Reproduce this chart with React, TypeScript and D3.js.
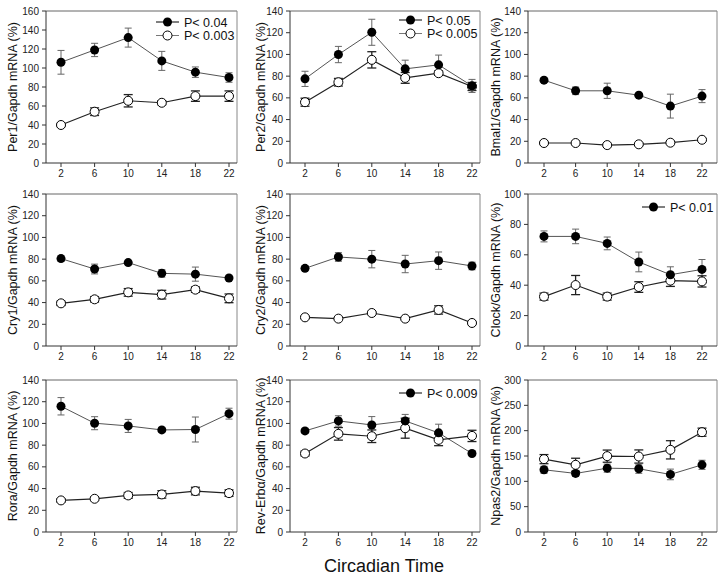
import React from "react";
import * as d3 from "d3";

const times = [2, 6, 10, 14, 18, 22];

const per1Filled = [106, 119, 132, 107.5, 95.6, 90];
const per1FilledErr = [12.5, 7, 10, 10, 5.5, 5];
const per1Open = [40, 54, 65.5, 63.4, 70.4, 70.4];
const per1OpenErr = [1.5, 4, 6.5, 2, 5.5, 5.5];

const per2Filled = [77.5, 99.9, 120.4, 86.7, 90.4, 71];
const per2FilledErr = [7, 7.5, 12, 8, 9, 6];
const per2Open = [56, 74.4, 95, 78.4, 82.7, 70.5];
const per2OpenErr = [3.7, 3.5, 7.5, 5, 2, 3.7];

const bmal1Filled = [76.3, 66.5, 66.5, 62.5, 52.4, 61.6];
const bmal1FilledErr = [2, 3.5, 7, 1.5, 11, 6];
const bmal1Open = [18.4, 18.4, 16.5, 17.2, 18.7, 21.4];
const bmal1OpenErr = [1, 1, 1, 1, 1, 1];

const cry1Filled = [80.5, 70.9, 76.8, 66.9, 66.2, 62.6];
const cry1FilledErr = [2.5, 4.5, 1.5, 3.5, 6.5, 1.5];
const cry1Open = [39.3, 43, 49.4, 47.3, 51.9, 43.9];
const cry1OpenErr = [2, 2.5, 3.5, 4, 2.5, 4];

const cry2Filled = [71.5, 82, 80, 75.5, 78.6, 73.7];
const cry2FilledErr = [2, 4, 8, 8, 8, 3.5];
const cry2Open = [26.4, 25.2, 30.4, 25.2, 33.2, 21.2];
const cry2OpenErr = [1, 1, 1, 1, 3.8, 1];

const clockFilled = [72.1, 72.1, 67.5, 55.3, 46.9, 50.4];
const clockFilledErr = [3.6, 4.8, 4.2, 6.5, 5.2, 6.5];
const clockOpen = [32.5, 40.1, 32.5, 38.8, 43, 42.5];
const clockOpenErr = [2.3, 6.3, 2.3, 3.5, 3.8, 3.7];

const roraFilled = [115.8, 100.2, 97.7, 94, 94.4, 109];
const roraFilledErr = [8, 6, 6, 2, 11.5, 5];
const roraOpen = [29.1, 30.6, 33.7, 34.6, 37.7, 35.8];
const roraOpenErr = [1.5, 1.5, 2.7, 3.4, 3.5, 3];

const revFilled = [93.1, 102.3, 98.6, 102.3, 91.3, 72.3];
const revFilledErr = [2, 4.8, 7.7, 6, 8, 1.5];
const revOpen = [72.3, 90.4, 88.2, 95.6, 84.9, 88.5];
const revOpenErr = [2.3, 5.8, 5.8, 9.2, 5.4, 5.2];

const npas2Filled = [122.8, 115.6, 126, 124.8, 113.6, 132.6];
const npas2FilledErr = [7, 6, 8, 9, 10.5, 9];
const npas2Open = [143.8, 132.6, 149.7, 149, 162.2, 197];
const npas2OpenErr = [9, 13, 12, 13, 18, 8];

const yLabels = [
  "Per1/Gapdh mRNA (%)",
  "Per2/Gapdh mRNA (%)",
  "Bmal1/Gapdh mRNA (%)",
  "Cry1/Gapdh mRNA (%)",
  "Cry2/Gapdh mRNA (%)",
  "Clock/Gapdh mRNA (%)",
  "Rora/Gapdh mRNA (%)",
  "Rev-Erb\u03b1/Gapdh mRNA (%)",
  "Npas2/Gapdh mRNA (%)",
];
const yMax = [160, 140, 140, 140, 140, 100, 140, 140, 300];
const yStep = [20, 20, 20, 20, 20, 20, 20, 20, 50];
const legendFilled = ["P< 0.04", "P< 0.05", "", "", "", "P< 0.01", "", "P< 0.009", ""];
const legendOpen = ["P< 0.003", "P< 0.005", "", "", "", "", "", "", ""];

const panels = [
  [per1Filled, per1FilledErr, per1Open, per1OpenErr],
  [per2Filled, per2FilledErr, per2Open, per2OpenErr],
  [bmal1Filled, bmal1FilledErr, bmal1Open, bmal1OpenErr],
  [cry1Filled, cry1FilledErr, cry1Open, cry1OpenErr],
  [cry2Filled, cry2FilledErr, cry2Open, cry2OpenErr],
  [clockFilled, clockFilledErr, clockOpen, clockOpenErr],
  [roraFilled, roraFilledErr, roraOpen, roraOpenErr],
  [revFilled, revFilledErr, revOpen, revOpenErr],
  [npas2Filled, npas2FilledErr, npas2Open, npas2OpenErr],
];

// layout
const colLeft = [46, 290, 528];
const colRight = [237, 480, 717];
const colFirstTick = [61, 305, 544];
const colLastTick = [229, 472, 702];
const colLabelX = [17, 265, 500];
const colLegendX = [156, 399, 642];
const rowTop = [11, 194, 380];
const rowBottom = [163, 346, 532];
const panelLegendY = [22, 20, 0, 0, 0, 207, 0, 393, 0];

const FONT = "Arial, 'Liberation Sans', sans-serif";

function Panel({ idx }: { idx: number }) {
  const c = idx % 3;
  const r = Math.floor(idx / 3);
  const left = colLeft[c], right = colRight[c], top = rowTop[r], bottom = rowBottom[r];
  const x = d3.scaleLinear().domain([2, 22]).range([colFirstTick[c], colLastTick[c]]);
  const y = d3.scaleLinear().domain([0, yMax[idx]]).range([bottom, top]);
  const [f, fe, o, oe] = panels[idx];
  const yTicks = d3.range(0, yMax[idx] + 0.001, yStep[idx]);
  const line = d3.line<number>().x((_, i) => x(times[i])).y((v) => y(v));
  const cap = 3.5;
  const errBars = (vals: number[], errs: number[], color: string, w: number, capW: number) =>
    vals.map((v, i) => {
      const cx = x(times[i]);
      return (
        <g key={i} stroke={color} strokeWidth={w}>
          <line x1={cx} x2={cx} y1={y(v + errs[i])} y2={y(v - errs[i])} />
          <line x1={cx - capW} x2={cx + capW} y1={y(v + errs[i])} y2={y(v + errs[i])} />
          <line x1={cx - capW} x2={cx + capW} y1={y(v - errs[i])} y2={y(v - errs[i])} />
        </g>
      );
    });
  const midY = (top + bottom) / 2;
  const legX0 = colLegendX[c];
  const legY0 = panelLegendY[idx];
  return (
    <g>
      {/* frame */}
      <line x1={left} x2={right} y1={top} y2={top} stroke="#666" strokeWidth={1} />
      <line x1={right} x2={right} y1={top} y2={bottom} stroke="#888" strokeWidth={1} />
      <line x1={left} x2={left} y1={top} y2={bottom} stroke="#333" strokeWidth={1} />
      <line x1={left} x2={right} y1={bottom} y2={bottom} stroke="#333" strokeWidth={1} />
      {yTicks.map((t) => (
        <g key={t}>
          <line x1={left - 4} x2={left} y1={y(t)} y2={y(t)} stroke="#333" />
          <text x={left - 7} y={y(t) + 3.5} textAnchor="end" fontSize={10} fontFamily={FONT} fill="#222">
            {t}
          </text>
        </g>
      ))}
      {times.map((t) => (
        <g key={t}>
          <line x1={x(t)} x2={x(t)} y1={bottom} y2={bottom + 4} stroke="#333" />
          <text x={x(t)} y={bottom + 14} textAnchor="middle" fontSize={10} fontFamily={FONT} fill="#222">
            {t}
          </text>
        </g>
      ))}
      <text
        transform={`translate(${colLabelX[c]},${midY}) rotate(-90)`}
        textAnchor="middle"
        fontSize={12.5}
        fontFamily={FONT}
        fill="#111"
      >
        {yLabels[idx]}
      </text>
      {/* error bars */}
      {errBars(f, fe, "#666", 1, cap)}
      {errBars(o, oe, "#222", 1.3, cap + 1)}
      {/* lines */}
      <path d={line(f) || ""} fill="none" stroke="#555" strokeWidth={1} />
      <path d={line(o) || ""} fill="none" stroke="#222" strokeWidth={1.2} />
      {/* markers */}
      {o.map((v, i) => (
        <circle key={"o" + i} cx={x(times[i])} cy={y(v)} r={4.5} fill="#fff" stroke="#000" strokeWidth={1} />
      ))}
      {f.map((v, i) => (
        <circle key={"f" + i} cx={x(times[i])} cy={y(v)} r={4.5} fill="#000" />
      ))}
      {/* legend */}
      {legendFilled[idx] && (
        <g>
          <line x1={legX0} x2={legX0 + 23} y1={legY0} y2={legY0} stroke="#000" />
          <circle cx={legX0 + 11.5} cy={legY0} r={4.5} fill="#000" />
          <text x={legX0 + 28} y={legY0 + 4.5} fontSize={12.5} fontFamily={FONT} fill="#111">
            {legendFilled[idx]}
          </text>
        </g>
      )}
      {legendOpen[idx] && (
        <g>
          <line x1={legX0} x2={legX0 + 23} y1={legY0 + 13.5} y2={legY0 + 13.5} stroke="#777" />
          <circle cx={legX0 + 11.5} cy={legY0 + 13.5} r={4.5} fill="#fff" stroke="#000" />
          <text x={legX0 + 28} y={legY0 + 18} fontSize={12.5} fontFamily={FONT} fill="#111">
            {legendOpen[idx]}
          </text>
        </g>
      )}
    </g>
  );
}

export default function App() {
  return (
    <svg
      width={728}
      height={581}
      style={{ position: "absolute", left: 0, top: 0, background: "#fff" }}
    >
      <rect width={728} height={581} fill="#fff" />
      {panels.map((_, i) => (
        <Panel key={i} idx={i} />
      ))}
      <text x={384} y={572} textAnchor="middle" fontSize={18} fontFamily={FONT} fill="#111">
        Circadian Time
      </text>
    </svg>
  );
}
